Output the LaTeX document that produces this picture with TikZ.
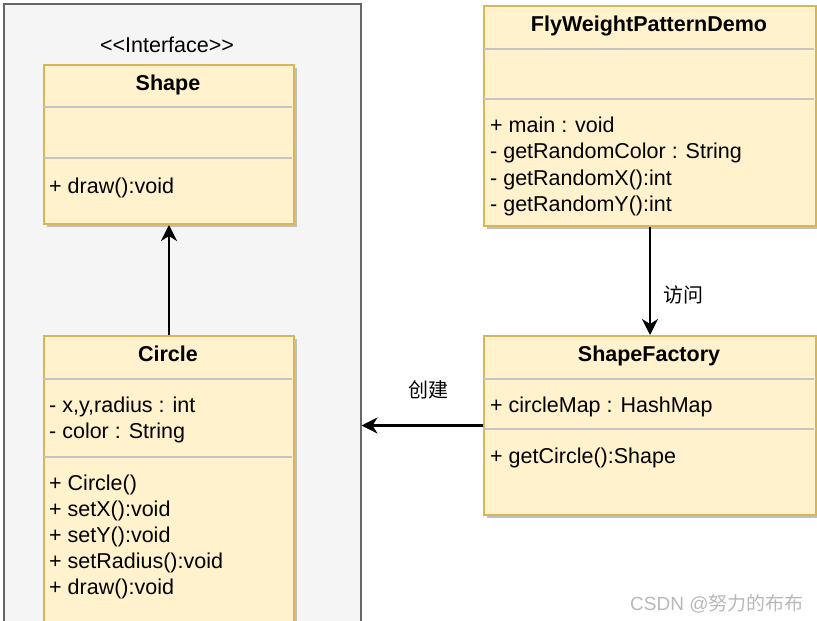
\documentclass[tikz,border=0pt]{standalone}
\usepackage{fontspec}
\setmainfont{Liberation Sans}
\newfontfamily\cjk{Noto Sans CJK SC}
\usetikzlibrary{arrows.meta,shadows}
\definecolor{boxfill}{HTML}{FFF2CC}
\definecolor{boxline}{HTML}{D6B656}
\definecolor{panelfill}{HTML}{F5F5F5}
\definecolor{panelline}{HTML}{666666}
\definecolor{divline}{HTML}{C4C4C4}
\begin{document}
\begin{tikzpicture}[x=1pt,y=-1pt,
  classbox/.style={draw=boxline, line width=2pt, fill=boxfill, anchor=north west, inner sep=0pt,
    drop shadow={shadow xshift=3pt, shadow yshift=-3pt, fill=black!25, opacity=1}},
  member/.style={anchor=base west, inner sep=0pt, font=\fontsize{21.5}{26}\selectfont},
  title/.style={anchor=base, inner sep=0pt, font=\fontsize{21.5}{26}\selectfont\bfseries},
  divider/.style={draw=divline, line width=1.5pt},
  conn/.style={draw=black, line width=2.5pt, -{Stealth[length=16pt,width=16pt,inset=5pt]}},
  lbl/.style={inner sep=0pt, font=\cjk\fontsize{20}{24}\selectfont}]
\useasboundingbox (0,0) rectangle (817,621);
\clip (0,0) rectangle (817,621);
% panel
\node[draw=panelline, fill=panelfill, line width=1.5pt, anchor=north west, minimum width=357pt, minimum height=660pt, inner sep=0pt] (panel) at (3,3) {};
% Shape
\node[anchor=base, inner sep=0pt, font=\fontsize{21.5}{26}\selectfont] (iface) at (167,52) {<\kern0pt<Interface>\kern0pt>};
\node[classbox, minimum width=250pt, minimum height=159pt] (shape) at (43,64) {};
\draw[divider] (44,107) -- (292,107);
\draw[divider] (44,158) -- (292,158);
\node[title] (shapeT) at (168,90) {Shape};
\node[member] (shapeM1) at (49,193) {+ draw():void};
% Circle
\node[classbox, minimum width=250pt, minimum height=320pt] (circle) at (43,335) {};
\draw[divider] (44,379) -- (292,379);
\draw[divider] (44,457) -- (292,457);
\node[title] (circleT) at (168,361) {Circle};
\node[member] (cA1) at (49,412) {- x,y,radius : int};
\node[member] (cA2) at (49,438) {- color : String};
\node[member] (cM1) at (49,490) {+ Circle()};
\node[member] (cM2) at (49,516) {+ setX():void};
\node[member] (cM3) at (49,542) {+ setY():void};
\node[member] (cM4) at (49,568) {+ setRadius():void};
\node[member] (cM5) at (49,594) {+ draw():void};
% FlyWeightPatternDemo
\node[classbox, minimum width=332pt, minimum height=220pt] (fw) at (483,5) {};
\draw[divider] (484,49) -- (814,49);
\draw[divider] (484,99) -- (814,99);
\node[title] (fwT) at (649,31) {FlyWeightPatternDemo};
\node[member] (fM1) at (490,132) {+ main : void};
\node[member] (fM2) at (490,158.5) {- getRandomColor : String};
\node[member] (fM3) at (490,185) {- getRandomX():int};
\node[member] (fM4) at (490,211.5) {- getRandomY():int};
% ShapeFactory
\node[classbox, minimum width=332pt, minimum height=179pt] (sf) at (483,335) {};
\draw[divider] (484,379) -- (814,379);
\draw[divider] (484,429) -- (814,429);
\node[title] (sfT) at (649,361) {ShapeFactory};
\node[member] (sA1) at (490,412) {+ circleMap : HashMap};
\node[member] (sM1) at (490,463) {+ getCircle():Shape};
% connectors
\draw[conn] (circle.north) -- (shape.south);
\draw[conn] (fw.south) -- (sf.north);
\draw[conn] (sf.west) -- (sf.west -| panel.east);
\node[lbl] (visit) at (683,295) {访问};
\node[lbl] (create) at (428,390) {创建};
% watermark
\node[anchor=base west, inner sep=0pt, text=black!28, font=\fontsize{19}{22}\selectfont] (wm) at (630,610) {CSDN @{\cjk 努力的布布}};
\end{tikzpicture}
\end{document}
